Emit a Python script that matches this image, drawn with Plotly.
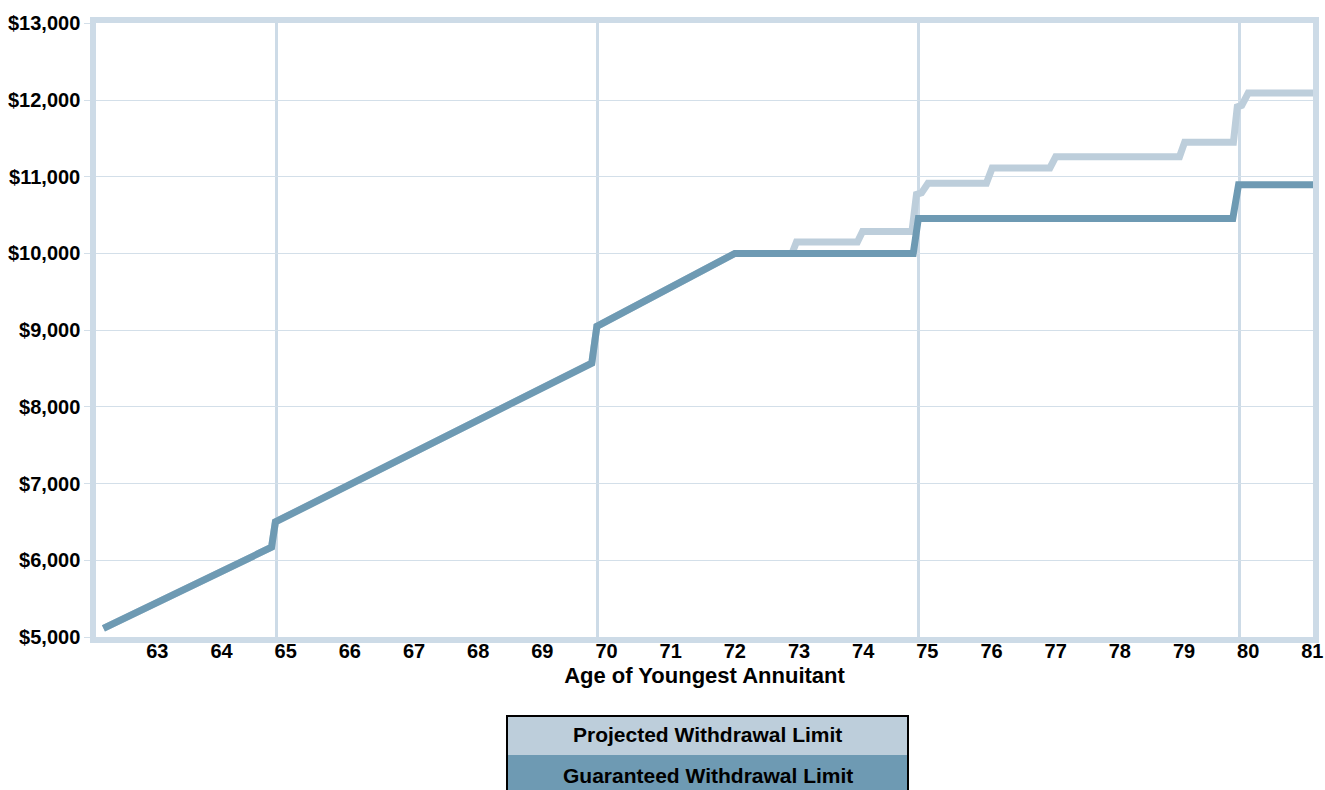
import plotly.graph_objects as go

# Guaranteed withdrawal limit by age (breakpoints of the curve)
guar_age = [62.30, 64.92, 64.98, 69.91, 69.99, 72.14, 74.92, 75.00, 79.90, 79.99, 81.17]
guar_val = [5112, 6170, 6500, 8570, 9050, 10000, 10000, 10455, 10455, 10895, 10895]

# Projected withdrawal limit by age (follows the guaranteed curve up to age 73)
proj_age = [62.30, 64.92, 64.98, 69.91, 69.99, 72.14, 73.03, 73.10, 74.05, 74.13,
            74.90, 74.97, 75.05, 75.15, 76.06, 76.15, 77.05, 77.14, 79.07, 79.15,
            79.91, 79.97, 80.04, 80.14, 81.17]
proj_val = [5112, 6170, 6500, 8570, 9050, 10000, 10000, 10150, 10150, 10285,
            10285, 10770, 10790, 10915, 10915, 11115, 11115, 11260, 11260, 11450,
            11450, 11910, 11930, 12090, 12090]

age_ticks = list(range(63, 82))
age_labels = [str(a) for a in age_ticks]
grid_ages = [65, 70, 75, 80]
y_ticks = list(range(5000, 13001, 1000))
y_labels = ["${:,}".format(v) for v in y_ticks]

series_names = ["Projected Withdrawal Limit", "Guaranteed Withdrawal Limit"]

PROJ_COLOR = "#bdcedb"
GUAR_COLOR = "#6e9ab3"
FRAME_COLOR = "#cddbe7"
GRID_COLOR = "#d3dfe9"
FONT = "Liberation Sans, Arial, sans-serif"

W, H = 1325, 790
x0_px, x1_px = 96, 1313
y0_px, y1_px = 23.3, 637
label_shift = 0.14

fig = go.Figure()
fig.add_trace(go.Scatter(x=proj_age, y=proj_val, mode="lines", name=series_names[0],
                         line=dict(color=PROJ_COLOR, width=7), xaxis="x", yaxis="y",
                         showlegend=False))
fig.add_trace(go.Scatter(x=guar_age, y=guar_val, mode="lines", name=series_names[1],
                         line=dict(color=GUAR_COLOR, width=7), xaxis="x2", yaxis="y",
                         showlegend=False))

x_range = [62.184, 81.15]
tick_font = dict(family=FONT, size=20, color="#000000", weight="bold")

fig.update_layout(
    width=W, height=H,
    margin=dict(l=0, r=0, t=0, b=0, autoexpand=False),
    paper_bgcolor="white", plot_bgcolor="white",
    xaxis=dict(
        domain=[x0_px / W, x1_px / W], range=x_range,
        tickmode="array", tickvals=grid_ages, showticklabels=False,
        showgrid=True, gridcolor=FRAME_COLOR, gridwidth=2.5, ticks="",
        showline=True, linecolor=FRAME_COLOR, linewidth=5.5, mirror=True,
        zeroline=False,
    ),
    xaxis2=dict(
        overlaying="x", matches="x", anchor="y", side="bottom", range=x_range,
        tickmode="array", tickvals=[a + label_shift for a in age_ticks], ticktext=age_labels,
        tickfont=tick_font, showgrid=False, ticks="", showline=False, zeroline=False,
        title=dict(text="Age of Youngest Annuitant", standoff=6,
                   font=dict(family=FONT, size=22, color="#000000", weight="bold")),
    ),
    yaxis=dict(
        domain=[1 - y1_px / H, 1 - y0_px / H], range=[5000, 13000],
        tickmode="array", tickvals=y_ticks, ticktext=y_labels, tickfont=tick_font,
        showgrid=True, gridcolor=GRID_COLOR, gridwidth=1,
        ticks="outside", ticklen=6, tickcolor=GRID_COLOR, tickwidth=1,
        showline=True, linecolor=FRAME_COLOR, linewidth=5.5, mirror=True,
        zeroline=False,
    ),
)

# Legend box below the chart: one coloured row per series
box_l, box_r = 507 / W, 908 / W
row_edges = [716, 755, 795]
row_colors = [PROJ_COLOR, GUAR_COLOR]
text_centers = [734, 775]
for i, name in enumerate(series_names):
    top, bot = 1 - row_edges[i] / H, 1 - row_edges[i + 1] / H
    fig.add_shape(type="rect", xref="paper", yref="paper", x0=box_l, x1=box_r,
                  y0=bot, y1=top, fillcolor=row_colors[i], line=dict(width=0), layer="above")
    fig.add_annotation(xref="paper", yref="paper", x=(box_l + box_r) / 2,
                       y=1 - text_centers[i] / H,
                       text=name, showarrow=False, xanchor="center", yanchor="middle",
                       font=dict(family=FONT, size=21, color="#000000", weight="bold"))
fig.add_shape(type="rect", xref="paper", yref="paper", x0=box_l, x1=box_r,
              y0=1 - row_edges[-1] / H, y1=1 - row_edges[0] / H,
              fillcolor="rgba(0,0,0,0)", line=dict(color="#000000", width=2), layer="above")

fig.write_html("out.html")
